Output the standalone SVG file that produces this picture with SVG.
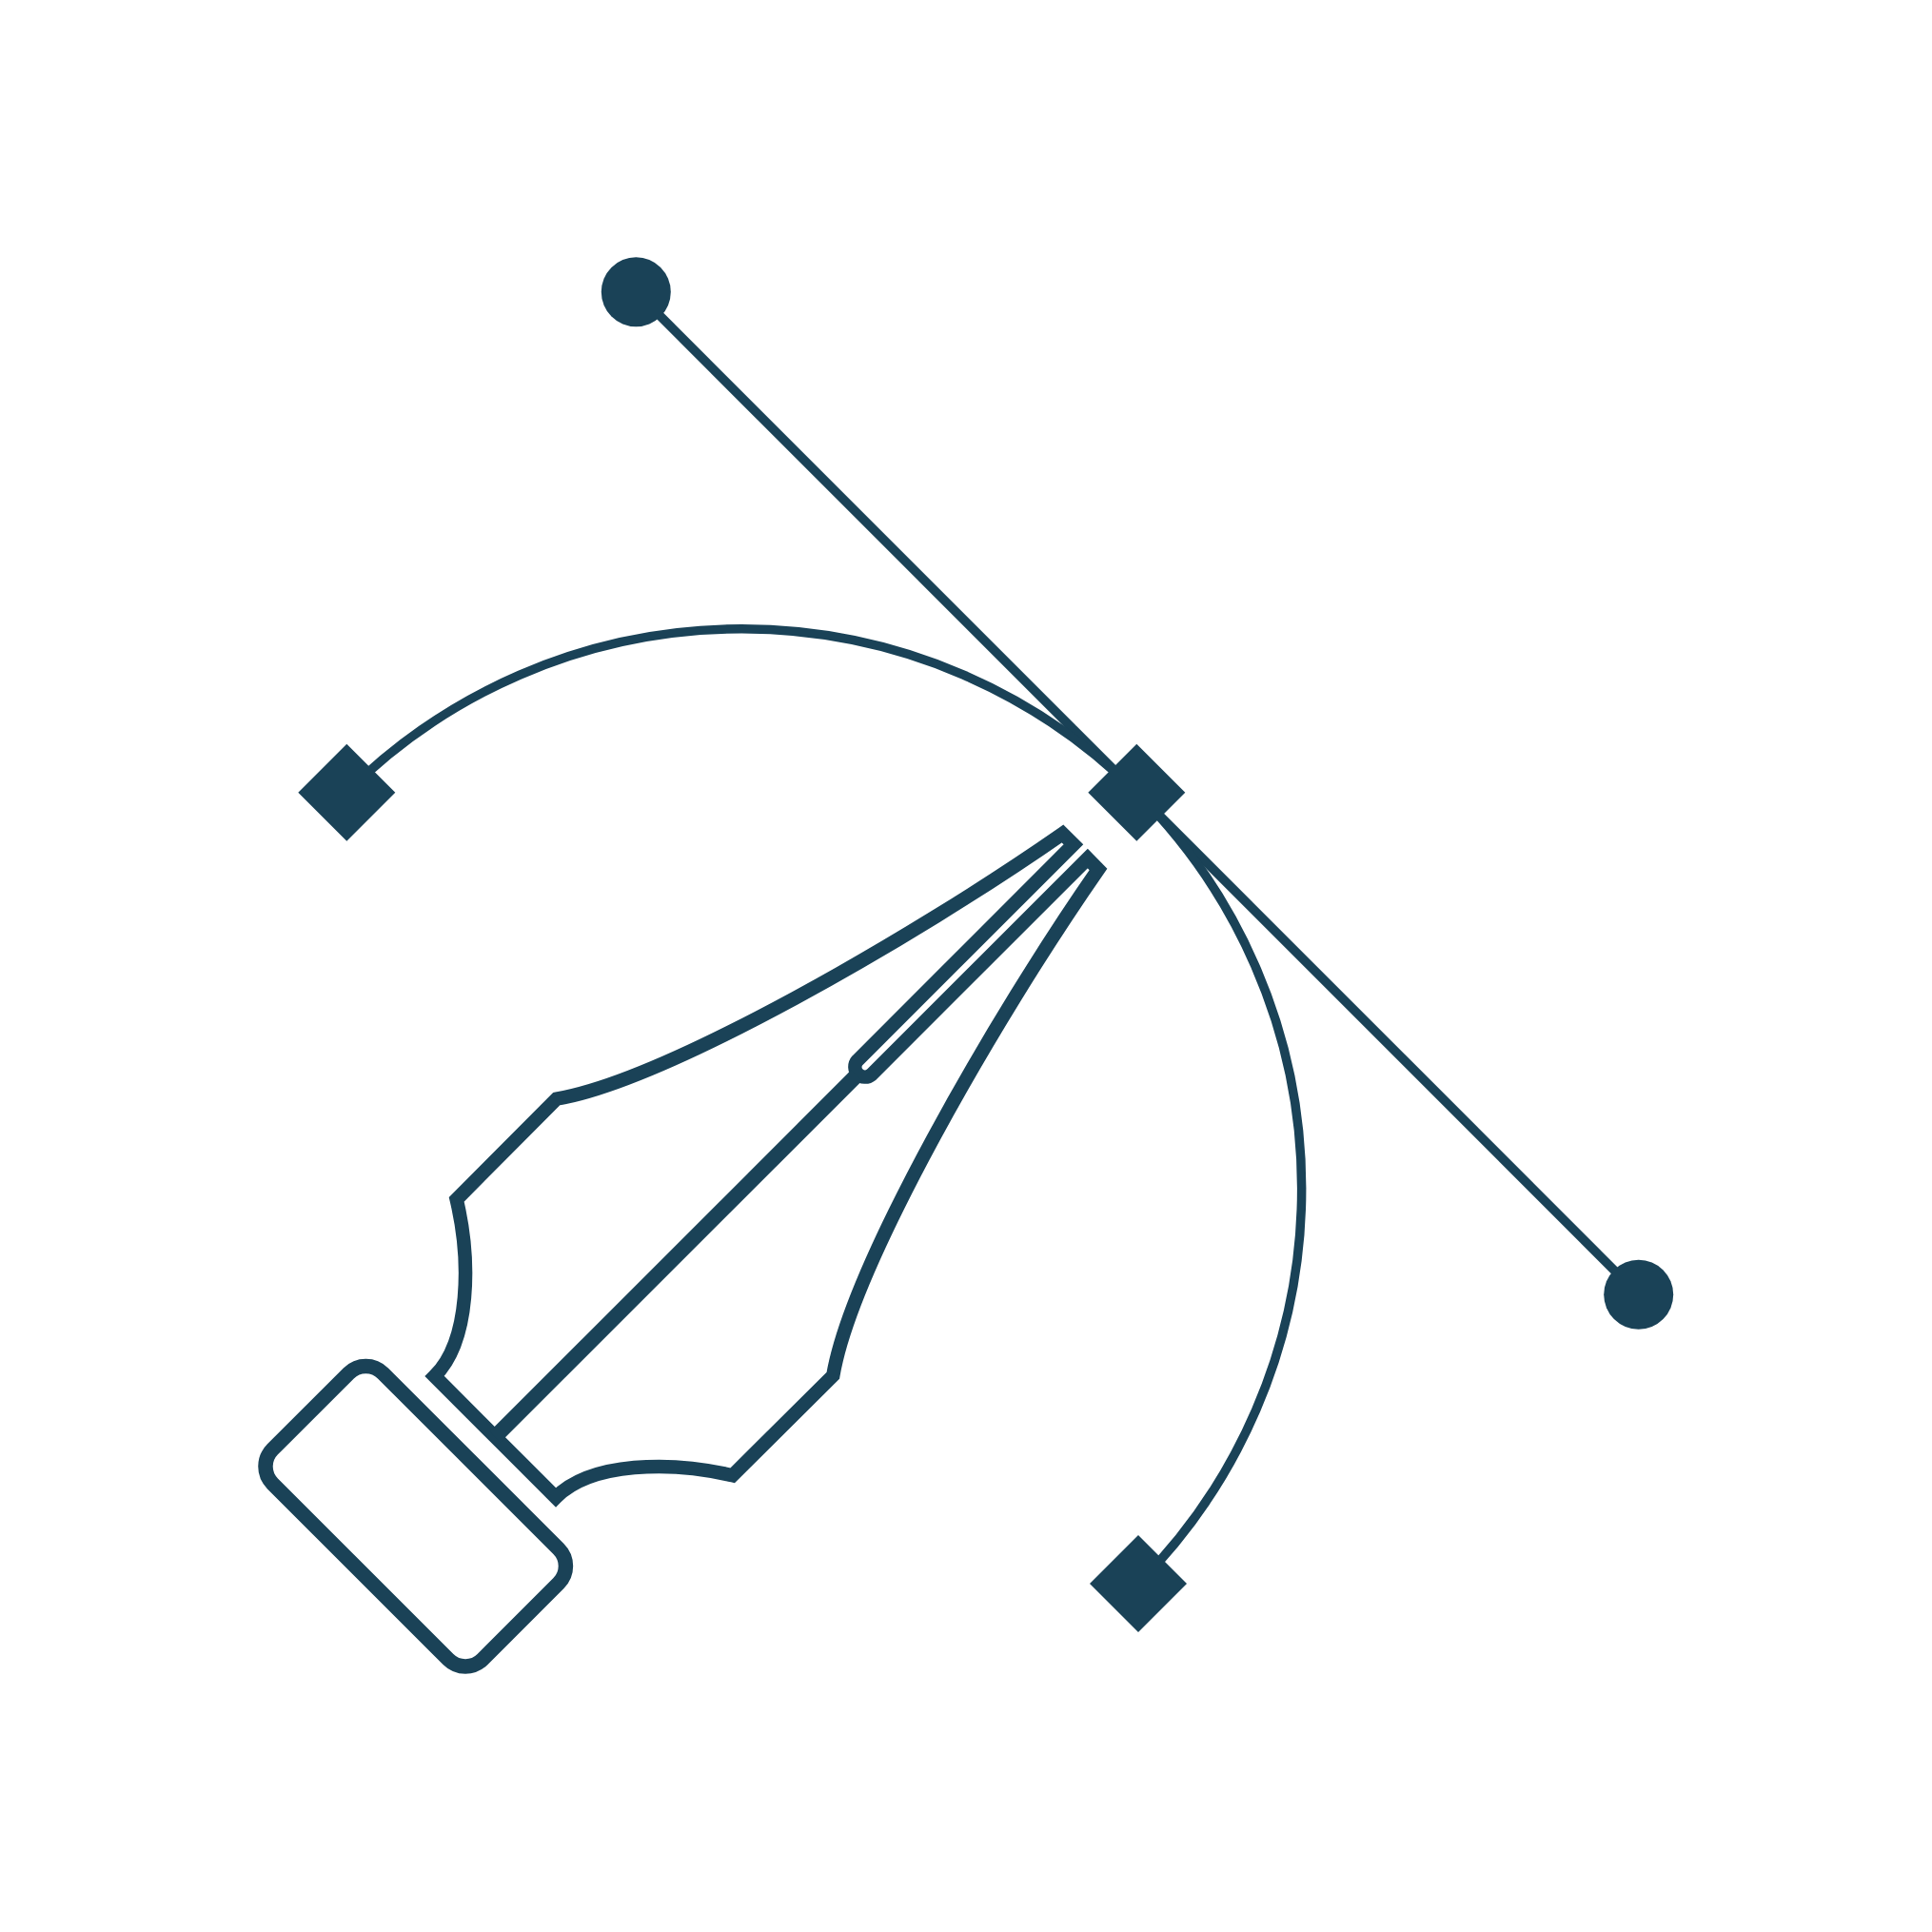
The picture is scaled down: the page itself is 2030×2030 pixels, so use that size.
<svg xmlns="http://www.w3.org/2000/svg" width="2030" height="2030" viewBox="0 0 2030 2030">
<style>
.ink{fill:#1a4257}
.thin{fill:none;stroke:#1a4257;stroke-width:9.5}
.pen{fill:none;stroke:#1a4257;stroke-width:14.5;stroke-miterlimit:12}
.body{fill:none;stroke:#1a4257;stroke-width:15.5}
.axis{fill:none;stroke:#1a4257;stroke-width:16}
</style>
<rect width="2030" height="2030" fill="#fff"/>
<g id="connectors">
<path class="thin" d="M668.3 306.7L1721.7 1360.3"/>
<path class="thin" d="M364.3 832.7A587 587 0 0 1 1194.3 832.7A587 587 0 0 1 1196 1664"/>
</g>
<g id="handle-top"><circle class="ink" cx="668.3" cy="306.7" r="36.5"/></g>
<g id="handle-right"><circle class="ink" cx="1721.7" cy="1360.3" r="36.5"/></g>
<g id="anchor-left"><path class="ink" d="M364.3 781.7L415.3 832.7L364.3 883.7L313.3 832.7Z"/></g>
<g id="anchor-center"><path class="ink" d="M1194.3 781.7L1245.3 832.7L1194.3 883.7L1143.3 832.7Z"/></g>
<g id="anchor-bottom"><path class="ink" d="M1196 1613L1247 1664L1196 1715L1145 1664Z"/></g>
<g id="pen-nib">
<path class="pen" d="M456.6 1446C494 1409 495 1325 479.7 1260.3L584.7 1154.7C700 1135 960 985 1116.5 876L1127.95 887.2L900.9 1114.3A10.5 10.5 0 0 0 915.7 1129.1L1142.8 902.05L1154 913.5C1045 1070 895 1330 875.3 1445.3L769.7 1550.3C705 1535 621 1536 584 1573.4Z"/>
<path class="axis" d="M520.3 1509.7L900 1130"/>
</g>
<g id="pen-body">
<rect class="body" x="-156" y="-82" width="312" height="164" rx="25.5" transform="translate(436.7 1593.2) rotate(45)"/>
</g>
</svg>
